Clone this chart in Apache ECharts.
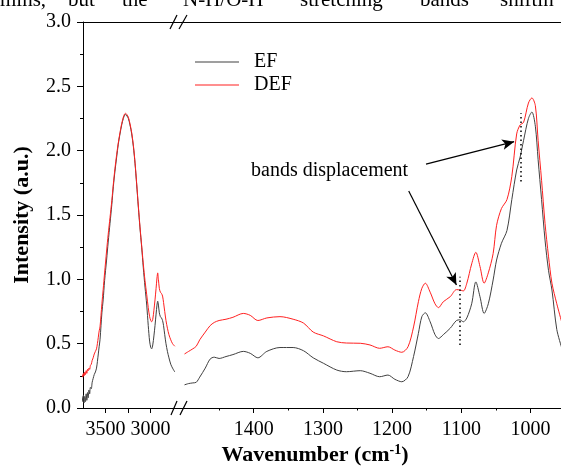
<!DOCTYPE html>
<html>
<head>
<meta charset="utf-8">
<script src="https://cdn.jsdelivr.net/npm/echarts@6/dist/echarts.min.js"></script>
<style>
  html, body { margin: 0; padding: 0; background: #fff; }
  #chart { width: 561px; height: 468px; }
</style>
</head>
<body>
<div id="chart"></div>
<script>
  // 高波数段 (3760 - 2730 cm-1)
  const leftWavenumbers = [3760, 3752, 3745, 3738, 3730, 3722, 3715, 3707, 3700, 3692, 3684, 3676, 3668, 3658, 3648, 3637, 3625, 3612, 3600, 3590, 3580, 3570, 3561, 3550, 3540, 3526, 3510, 3488, 3470, 3450, 3430, 3413, 3395, 3376, 3358, 3339, 3320, 3302, 3288, 3276, 3262, 3246, 3228, 3209, 3190, 3172, 3154, 3135, 3117, 3098, 3080, 3061, 3042, 3025, 3010, 2997, 2987, 2975, 2962, 2950, 2938, 2928, 2920, 2912, 2902, 2890, 2878, 2866, 2855, 2842, 2828, 2812, 2795, 2775, 2755, 2730]
  const leftEF = [0.09, 0.05, 0.10, 0.04, 0.09, 0.05, 0.11, 0.06, 0.12, 0.08, 0.14, 0.11, 0.16, 0.15, 0.20, 0.23, 0.26, 0.28, 0.31, 0.36, 0.42, 0.48, 0.53, 0.64, 0.74, 0.84, 0.99, 1.15, 1.29, 1.435, 1.58, 1.72, 1.84, 1.95, 2.05, 2.13, 2.20, 2.25, 2.275, 2.28, 2.27, 2.25, 2.20, 2.13, 2.03, 1.90, 1.74, 1.56, 1.40, 1.25, 1.09, 0.94, 0.80, 0.64, 0.52, 0.47, 0.46, 0.49, 0.56, 0.64, 0.73, 0.80, 0.83, 0.80, 0.74, 0.71, 0.70, 0.68, 0.64, 0.57, 0.50, 0.44, 0.39, 0.34, 0.31, 0.28]
  const leftDEF = [0.26, 0.24, 0.27, 0.25, 0.28, 0.26, 0.29, 0.27, 0.30, 0.29, 0.31, 0.30, 0.33, 0.34, 0.37, 0.39, 0.42, 0.44, 0.46, 0.50, 0.55, 0.60, 0.63, 0.72, 0.81, 0.92, 1.05, 1.22, 1.35, 1.48, 1.61, 1.74, 1.86, 1.97, 2.06, 2.14, 2.21, 2.26, 2.285, 2.29, 2.28, 2.26, 2.21, 2.14, 2.04, 1.91, 1.75, 1.57, 1.41, 1.26, 1.12, 0.99, 0.88, 0.78, 0.71, 0.68, 0.67, 0.69, 0.76, 0.84, 0.93, 1.01, 1.05, 1.00, 0.93, 0.90, 0.89, 0.87, 0.82, 0.75, 0.68, 0.62, 0.57, 0.53, 0.50, 0.48]

  // 指纹区 (1500 - 955 cm-1)
  const rightWavenumbers = [1500, 1494, 1488, 1483, 1478, 1470, 1463, 1457, 1450, 1440, 1430, 1415, 1405, 1394, 1381, 1362, 1343, 1328, 1314, 1299, 1280, 1266, 1246, 1232, 1218, 1206, 1196, 1186, 1177, 1169, 1162, 1157, 1152, 1145, 1138, 1133, 1126, 1116, 1107, 1102, 1097, 1092, 1085, 1079, 1073, 1067, 1061, 1054, 1049, 1042, 1034, 1027, 1020, 1015, 1010, 1003, 998, 993, 989, 984, 979, 974, 969, 962, 955]
  const rightEF = [0.18, 0.19, 0.195, 0.20, 0.24, 0.31, 0.38, 0.395, 0.385, 0.40, 0.415, 0.44, 0.425, 0.39, 0.44, 0.47, 0.47, 0.445, 0.39, 0.347, 0.295, 0.282, 0.29, 0.27, 0.243, 0.256, 0.223, 0.204, 0.243, 0.40, 0.58, 0.71, 0.74, 0.67, 0.57, 0.54, 0.57, 0.62, 0.68, 0.685, 0.67, 0.70, 0.81, 0.98, 0.865, 0.735, 0.81, 0.995, 1.15, 1.28, 1.38, 1.62, 1.85, 1.95, 2.08, 2.25, 2.30, 2.19, 1.93, 1.62, 1.305, 1.07, 0.917, 0.61, 0.47]
  const rightDEF = [0.42, 0.44, 0.46, 0.48, 0.53, 0.59, 0.64, 0.665, 0.68, 0.69, 0.705, 0.735, 0.72, 0.68, 0.70, 0.71, 0.69, 0.66, 0.59, 0.56, 0.515, 0.505, 0.503, 0.49, 0.464, 0.476, 0.45, 0.433, 0.476, 0.63, 0.826, 0.93, 0.97, 0.90, 0.81, 0.78, 0.826, 0.865, 0.92, 0.917, 0.91, 0.97, 1.12, 1.21, 1.10, 0.97, 1.05, 1.20, 1.42, 1.55, 1.62, 1.80, 2.13, 2.20, 2.22, 2.37, 2.41, 2.35, 2.08, 1.77, 1.435, 1.18, 0.97, 0.81, 0.67]

  const leftTickValues = [3500, 3250, 3000]
  const leftLabelValues = [3500, 3000]
  const rightTickValues = [1400, 1300, 1200, 1100, 1000]

  const font = "'Liberation Serif', 'Times New Roman', serif"
  const black = '#000'
  const efColor = '#404040'
  const defColor = '#ff2020'

  const pairs = (xs, ys) => xs.map((x, i) => [x, ys[i]])

  const chart = echarts.init(document.getElementById('chart'), null, {renderer: 'canvas'})

  // 上边框(只画轴线)
  const topAxis = (gridIndex, min, max) => ({
    gridIndex: gridIndex,
    type: 'value',
    position: 'top',
    inverse: true,
    min: min,
    max: max,
    axisLine: {show: true, onZero: false, lineStyle: {color: black, width: 1}},
    axisTick: {show: false},
    axisLabel: {show: false},
    splitLine: {show: false}
  })

  const option = {
    backgroundColor: '#fff',
    animation: false,
    legend: {
      data: ['EF', 'DEF'],
      orient: 'vertical',
      left: 190,
      top: 47,
      icon: 'rect',
      itemWidth: 44,
      itemHeight: 1,
      itemGap: 3,
      textStyle: {fontFamily: font, fontSize: 20, color: black, padding: [0, 0, 0, 10]}
    },
    grid: [
      {left: 83, top: 22, width: 94.5, bottom: 60, outerBoundsMode: 'none'},
      {left: 184.5, top: 22, width: 415.2, bottom: 60, outerBoundsMode: 'none'}
    ],
    xAxis: [
      {
        gridIndex: 0,
        type: 'value',
        inverse: true,
        min: 2700,
        max: 3750,
        axisLine: {onZero: false, lineStyle: {color: black, width: 1}},
        axisTick: {customValues: leftTickValues, length: 5, lineStyle: {color: black}},
        axisLabel: {customValues: leftLabelValues, margin: 12, fontFamily: font, fontSize: 20, color: black, formatter: v => String(v)},
        splitLine: {show: false}
      },
      {
        gridIndex: 1,
        type: 'value',
        inverse: true,
        min: 900,
        max: 1500,
        interval: 100,
        axisLine: {onZero: false, lineStyle: {color: black, width: 1}},
        axisTick: {customValues: rightTickValues, length: 5, lineStyle: {color: black}},
        minorTick: {show: true, splitNumber: 2, length: 2.5, lineStyle: {color: black}},
        axisLabel: {customValues: rightTickValues, margin: 12, fontFamily: font, fontSize: 20, color: black, formatter: v => String(v)},
        splitLine: {show: false}
      },
      topAxis(0, 2700, 3750),
      topAxis(1, 900, 1500)
    ],
    yAxis: [
      {
        gridIndex: 0,
        type: 'value',
        min: 0,
        max: 3,
        interval: 0.5,
        name: 'Intensity (a.u.)',
        nameLocation: 'middle',
        nameGap: 50,
        nameTextStyle: {fontFamily: font, fontSize: 22, fontWeight: 'bold', color: black},
        axisLine: {show: true, lineStyle: {color: black, width: 1}},
        axisTick: {show: true, length: 6, lineStyle: {color: black}},
        minorTick: {show: true, splitNumber: 2, length: 3, lineStyle: {color: black}},
        axisLabel: {margin: 12, fontFamily: font, fontSize: 20, color: black, formatter: v => v.toFixed(1)},
        splitLine: {show: false}
      },
      {gridIndex: 1, type: 'value', min: 0, max: 3, show: false, splitLine: {show: false}}
    ],
    series: [
      {
        name: 'EF', type: 'line', xAxisIndex: 0, yAxisIndex: 0,
        data: pairs(leftWavenumbers, leftEF),
        symbol: 'none', smooth: 0.3,
        lineStyle: {color: efColor, width: 1}, itemStyle: {color: efColor}
      },
      {
        name: 'DEF', type: 'line', xAxisIndex: 0, yAxisIndex: 0,
        data: pairs(leftWavenumbers, leftDEF),
        symbol: 'none', smooth: 0.3,
        lineStyle: {color: defColor, width: 1}, itemStyle: {color: defColor}
      },
      {
        name: 'EF', type: 'line', xAxisIndex: 1, yAxisIndex: 1,
        data: pairs(rightWavenumbers, rightEF),
        symbol: 'none', smooth: 0.3,
        lineStyle: {color: efColor, width: 1}, itemStyle: {color: efColor},
        // 箭头
        markLine: {
          silent: true,
          symbol: ['none', 'arrow'],
          symbolSize: [8, 12],
          label: {show: false},
          lineStyle: {color: black, width: 1.2, type: 'solid'},
          data: [
            [{coord: [1151, 1.896]}, {coord: [1023.6, 2.07]}],
            [{coord: [1176, 1.686]}, {coord: [1107, 0.956]}]
          ]
        }
      },
      {
        name: 'DEF', type: 'line', xAxisIndex: 1, yAxisIndex: 1,
        data: pairs(rightWavenumbers, rightDEF),
        symbol: 'none', smooth: 0.3,
        lineStyle: {color: defColor, width: 1}, itemStyle: {color: defColor},
        // 虚线标记
        markLine: {
          silent: true,
          symbol: ['none', 'none'],
          label: {show: false},
          lineStyle: {color: black, width: 1.5, type: [1.5, 3]},
          data: [
            [{coord: [1102.5, 0.49]}, {coord: [1102.5, 1.02]}],
            [{coord: [1014, 1.76]}, {coord: [1014, 2.29]}]
          ]
        }
      }
    ],
    graphic: [
      // 断轴连接线与斜杠
      {type: 'line', shape: {x1: 177, y1: 22.5, x2: 185, y2: 22.5}, style: {stroke: black, lineWidth: 1}},
      {type: 'line', shape: {x1: 177, y1: 408.5, x2: 185, y2: 408.5}, style: {stroke: black, lineWidth: 1}},
      {type: 'line', shape: {x1: 170, y1: 29, x2: 177, y2: 15}, style: {stroke: black, lineWidth: 1.2}},
      {type: 'line', shape: {x1: 179, y1: 29, x2: 187, y2: 15}, style: {stroke: black, lineWidth: 1.2}},
      {type: 'line', shape: {x1: 171, y1: 415, x2: 177, y2: 401}, style: {stroke: black, lineWidth: 1.2}},
      {type: 'line', shape: {x1: 180, y1: 415, x2: 187, y2: 401}, style: {stroke: black, lineWidth: 1.2}},
      {
        type: 'text', left: 251, top: 161,
        style: {text: 'bands displacement', fontFamily: font, fontSize: 20, fill: black}
      },
      {
        type: 'text', x: 315, y: 455,
        style: {
          text: '{b|Wavenumber (cm}{s|-1}{b|)}',
          align: 'center', verticalAlign: 'middle',
          rich: {
            b: {fontFamily: font, fontSize: 22, fontWeight: 'bold', fill: black},
            s: {fontFamily: font, fontSize: 14, fontWeight: 'bold', fill: black, padding: [0, 0, 9, 0]}
          }
        }
      },
      // 顶部被裁切的正文
      {type: 'text', x: 0, y: 11, style: {text: 'mins,', fontFamily: font, fontSize: 21, fill: black, verticalAlign: 'bottom'}},
      {type: 'text', x: 68, y: 11, style: {text: 'but', fontFamily: font, fontSize: 21, fill: black, verticalAlign: 'bottom'}},
      {type: 'text', x: 122, y: 11, style: {text: 'the', fontFamily: font, fontSize: 21, fill: black, verticalAlign: 'bottom'}},
      {type: 'text', x: 183, y: 11, style: {text: 'N-H/O-H', fontFamily: font, fontSize: 21, fill: black, verticalAlign: 'bottom'}},
      {type: 'text', x: 300, y: 11, style: {text: 'stretching', fontFamily: font, fontSize: 21, fill: black, verticalAlign: 'bottom'}},
      {type: 'text', x: 420, y: 11, style: {text: 'bands', fontFamily: font, fontSize: 21, fill: black, verticalAlign: 'bottom'}},
      {type: 'text', x: 500, y: 11, style: {text: 'shiftin', fontFamily: font, fontSize: 21, fill: black, verticalAlign: 'bottom'}}
    ]
  }

  chart.setOption(option)
</script>
</body>
</html>
